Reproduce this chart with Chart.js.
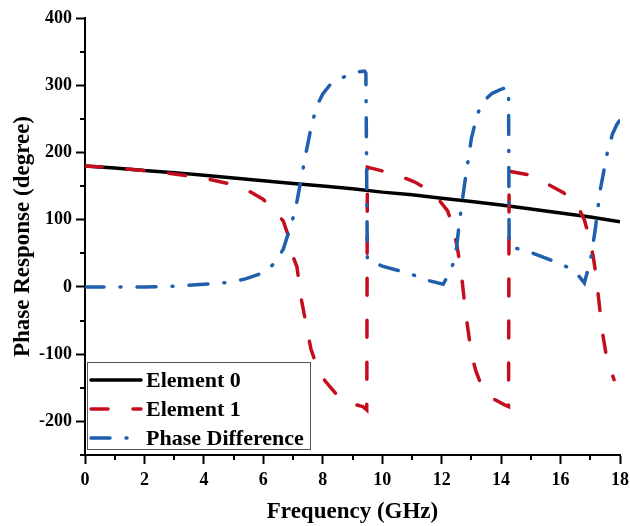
<!DOCTYPE html>
<html>
<head>
<meta charset="utf-8">
<script src="https://cdn.jsdelivr.net/npm/chart.js@4"></script>
<style>
  html, body { margin: 0; padding: 0; background: #fff; }
  #wrap { width: 630px; height: 526px; }
</style>
</head>
<body>
<div id="wrap"><canvas id="phaseChart" width="630" height="526"></canvas></div>
<script>
// values
const e0Freq  = [0, 1, 2, 3, 4, 5, 6, 7, 8, 9, 10, 11, 12, 13, 14, 15, 16, 17, 18];
const e0Phase = [180, 177, 173, 170, 166, 162, 158, 154, 150, 146, 141, 137, 132, 127, 122, 116, 110, 104, 97];

const e1Freq  = [0, 1, 2, 3, 4, 4.8, 5.5, 6.0, 6.4, 6.67, 6.85, 7.0, 7.13, 7.29, 7.45, 7.6, 7.8, 8.08, 8.5, 8.9, 9.25, 9.35, 9.48, 9.5,
                 9.7, 10.4, 11.1, 11.6, 11.9, 12.2, 12.4, 12.55, 12.65, 12.8, 13.0, 13.15, 13.3, 13.5, 13.8, 14.1, 14.25, 14.27,
                 14.9, 15.4, 16.1, 16.55, 16.8, 16.95, 17.1, 17.2, 17.4, 17.55, 17.8];
const e1Phase = [180, 177, 173, 168, 162, 154, 143, 130, 113, 98, 75, 45, 30, -21, -58, -92, -118, -140, -162, -172, -177, -178, -183, 178,
                 176, 168, 156, 143, 130, 113, 88, 52, 25, -36, -100, -125, -142, -157, -168, -175, -178, 172,
                 167, 157, 140, 123, 100, 76, 45, 15, -65, -105, -138];

const pdFreq  = [0, 1, 2, 3, 4, 4.9, 5.4, 6.0, 6.4, 6.67, 6.9, 7.07, 7.24, 7.46, 7.62, 7.8, 8.0, 8.25, 8.7, 9.2, 9.4, 9.45, 9.5,
                 10.0, 10.9, 11.6, 12.05, 12.25, 12.4, 12.5, 12.6, 12.8, 13.0, 13.2, 13.4, 13.7, 14.0, 14.2, 14.25, 14.27,
                 14.9, 15.5, 16.0, 16.3, 16.6, 16.8, 17.0, 17.16, 17.33, 17.56, 17.75, 17.9, 18.0];
const pdPhase = [0, 0, 0, 1, 4, 7, 12, 21, 36, 56, 88, 113, 153, 205, 240, 269, 287, 301, 312, 320, 321, 318, 40,
                 31, 20, 9, 4, 20, 36, 58, 98, 162, 221, 257, 276, 288, 294, 297, 296, 60,
                 53, 43, 34, 28, 17, 6, 38, 83, 143, 197, 228, 242, 248];

const xTicks = [0, 2, 4, 6, 8, 10, 12, 14, 16, 18];
const yTicks = [-200, -100, 0, 100, 200, 300, 400];
const xMinor = [1, 3, 5, 7, 9, 11, 13, 15, 17];
const yMinor = [-250, -150, -50, 50, 150, 250, 350];

const SERIF = '"Liberation Serif", "Times New Roman", serif';

function pts(xs, ys) {
    return xs.map((x, i) => ({x: x, y: ys[i]}));
}

// small ticks between the labelled ones
const minorTicks = {
    id: 'minorTicks',
    afterDraw(chart) {
        const c = chart.ctx;
        const xs = chart.scales.x, ys = chart.scales.y;
        c.save();
        c.strokeStyle = '#000';
        c.lineWidth = 2;
        c.beginPath();
        xMinor.forEach(v => {
            let px = Math.round(xs.getPixelForValue(v));
            c.moveTo(px, xs.top); c.lineTo(px, xs.top + 5);
        });
        yMinor.forEach(v => {
            let py = Math.round(ys.getPixelForValue(v));
            c.moveTo(ys.right, py); c.lineTo(ys.right - 5, py);
        });
        c.stroke();
        c.restore();
    }
};

// boxed legend sitting in the lower left of the plot
const boxLegend = {
    id: 'boxLegend',
    afterDraw(chart) {
        const c = chart.ctx;
        const area = chart.chartArea;
        const left = area.left + 2, w = 223, h = 87;
        const top = area.bottom - h - 6;
        c.save();
        c.fillStyle = '#fff';
        c.fillRect(left, top, w, h);
        c.strokeStyle = '#555';
        c.lineWidth = 1;
        c.strokeRect(left + 0.5, top + 0.5, w, h);
        chart.data.datasets.forEach((ds, i) => {
            let y = top + 18 + i * 29;
            c.strokeStyle = ds.borderColor;
            c.lineWidth = ds.borderWidth;
            c.lineCap = 'round';
            c.setLineDash(ds.borderDash || []);
            c.beginPath();
            c.moveTo(left + 4, y);
            c.lineTo(left + 54, y);
            c.stroke();
            c.setLineDash([]);
            c.fillStyle = '#000';
            c.font = 'bold 22px ' + SERIF;
            c.textBaseline = 'middle';
            c.fillText(ds.label, left + 59, y + 1);
        });
        c.restore();
    }
};

const ctx = document.getElementById('phaseChart');
let chr = new Chart(ctx, {
    type: 'line',
    data: {
        datasets: [{
            label: 'Element 0',
            data: pts(e0Freq, e0Phase),
            borderColor: '#000000',
            borderWidth: 3.5,
            order: 3
        }, {
            label: 'Element 1',
            data: pts(e1Freq, e1Phase),
            borderColor: '#C40E1E',
            borderWidth: 3.5,
            borderDash: [17, 25],
            borderCapStyle: 'round',
            order: 2
        }, {
            label: 'Phase Difference',
            data: pts(pdFreq, pdPhase),
            borderColor: '#1F5FAE',
            borderWidth: 3.5,
            borderDash: [19, 16, 1, 16],
            borderCapStyle: 'round',
            order: 1
        }]
    },
    options: {
        responsive: false,
        animation: false,
        devicePixelRatio: 1,
        layout: { padding: { top: 18, right: 0, left: 0, bottom: 0 } },
        elements: { point: { radius: 0 }, line: { tension: 0, fill: false } },
        plugins: { legend: { display: false }, tooltip: { enabled: false } },
        scales: {
            x: {
                type: 'linear',
                min: 0,
                max: 18,
                afterBuildTicks: s => { s.ticks = xTicks.map(v => ({value: v})); },
                afterFit: s => { s.height = 71; s.paddingRight = 10; s.paddingLeft = 0; },
                ticks: { color: '#000', padding: 6, font: { family: SERIF, size: 18, weight: 'bold' } },
                grid: { drawOnChartArea: false, tickLength: 9, tickColor: '#000', tickWidth: 2 },
                border: { color: '#000', width: 2 },
                title: {
                    display: true,
                    text: 'Frequency (GHz)',
                    color: '#000',
                    padding: { top: 0, bottom: 0 },
                    font: { family: SERIF, size: 23, weight: 'bold' }
                }
            },
            y: {
                type: 'linear',
                min: -250,
                max: 400,
                afterBuildTicks: s => { s.ticks = yTicks.map(v => ({value: v})); },
                afterFit: s => { s.width = 85; },
                ticks: { color: '#000', padding: 4, font: { family: SERIF, size: 18, weight: 'bold' } },
                grid: { drawOnChartArea: false, tickLength: 9, tickColor: '#000', tickWidth: 2 },
                border: { color: '#000', width: 2 },
                title: {
                    display: true,
                    text: 'Phase Response (degree)',
                    color: '#000',
                    padding: { top: 9, bottom: 0 },
                    font: { family: SERIF, size: 23, weight: 'bold' }
                }
            }
        }
    },
    plugins: [minorTicks, boxLegend]
});
</script>
</body>
</html>
